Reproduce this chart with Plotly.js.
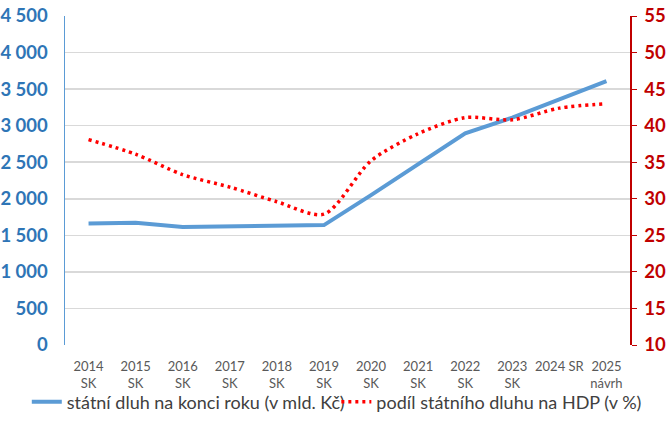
<!DOCTYPE html>
<html>
<head>
<meta charset="utf-8">
<script src="https://cdn.plot.ly/plotly-3.0.1.min.js"></script>
<style>
  body { margin: 0; background: #fff; }
  #chart { width: 670px; height: 425px; }
</style>
</head>
<body>
<div id="chart"></div>
<script>
const years = ["2014<br>SK", "2015<br>SK", "2016<br>SK", "2017<br>SK", "2018<br>SK", "2019<br>SK",
               "2020<br>SK", "2021<br>SK", "2022<br>SK", "2023<br>SK", "2024 SR", "2025<br>návrh"]
const debt = [1663, 1673, 1613, 1624, 1622, 1640, 2050, 2466, 2895, 3111, 3365, 3610]
const debtGdp = [38.1, 36.1, 33.3, 31.6, 29.6, 27.9, 35.2, 38.9, 41.1, 40.8, 42.4, 43.0]

let trace1 = {
    x: years,
    y: debt,
    name: 'státní dluh na konci roku (v mld. Kč)',
    type: 'scatter',
    mode: 'lines',
    legend: 'legend',
    line: {color: '#5B9BD5', width: 4}
}

let trace2 = {
    x: years,
    y: debtGdp,
    name: 'podíl státního dluhu na HDP (v %)',
    type: 'scatter',
    mode: 'lines',
    yaxis: 'y2',
    legend: 'legend2',
    line: {color: '#FF0000', width: 3.5, dash: '3px,4px', shape: 'spline', smoothing: 0.8}
}

// two legends side by side, so they don't wrap
let legendBase = {
    orientation: 'h',
    xref: 'container', yref: 'container',
    xanchor: 'left',
    y: 0.054, yanchor: 'middle',
    bgcolor: 'rgba(0,0,0,0)',
    font: {size: 18, color: '#404040'},
    itemwidth: 30
}

let layout = {
    width: 670,
    height: 425,
    margin: {l: 65, r: 40, t: 16, b: 80},
    paper_bgcolor: '#fff',
    plot_bgcolor: '#fff',
    separators: ', ',
    font: {family: 'Lato, "Open Sans", sans-serif', color: '#595959'},
    showlegend: true,
    legend: Object.assign({}, legendBase, {x: 0.04}),
    legend2: Object.assign({}, legendBase, {x: 0.502}),
    xaxis: {
        type: 'category',
        range: [-0.5, 11.5],
        showgrid: false,
        zeroline: false,
        showline: false,
        ticks: '',
        automargin: false,
        ticklabelstandoff: 12,
        tickfont: {size: 13, color: '#595959'},
        tickangle: 0
    },
    yaxis: {
        range: [0, 4500],
        dtick: 500,
        tickformat: ',d',
        showgrid: true,
        gridcolor: '#D9D9D9',
        gridwidth: 1.5,
        zeroline: false,
        showline: true,
        linecolor: '#5B9BD5',
        linewidth: 1.5,
        ticks: '',
        automargin: false,
        ticklabelstandoff: 12,
        tickfont: {size: 18.5, color: '#2E75B6', weight: 'bold'}
    },
    yaxis2: {
        range: [10, 55],
        dtick: 5,
        overlaying: 'y',
        side: 'right',
        showgrid: false,
        zeroline: false,
        showline: true,
        linecolor: '#C00000',
        linewidth: 1.5,
        ticks: 'outside',
        ticklen: 5,
        tickcolor: '#C00000',
        automargin: false,
        ticklabelstandoff: 4,
        tickfont: {size: 18.5, color: '#C00000', weight: 'bold'}
    }
}

Plotly.newPlot('chart', [trace1, trace2], layout, {displayModeBar: false, staticPlot: true})
</script>
</body>
</html>
